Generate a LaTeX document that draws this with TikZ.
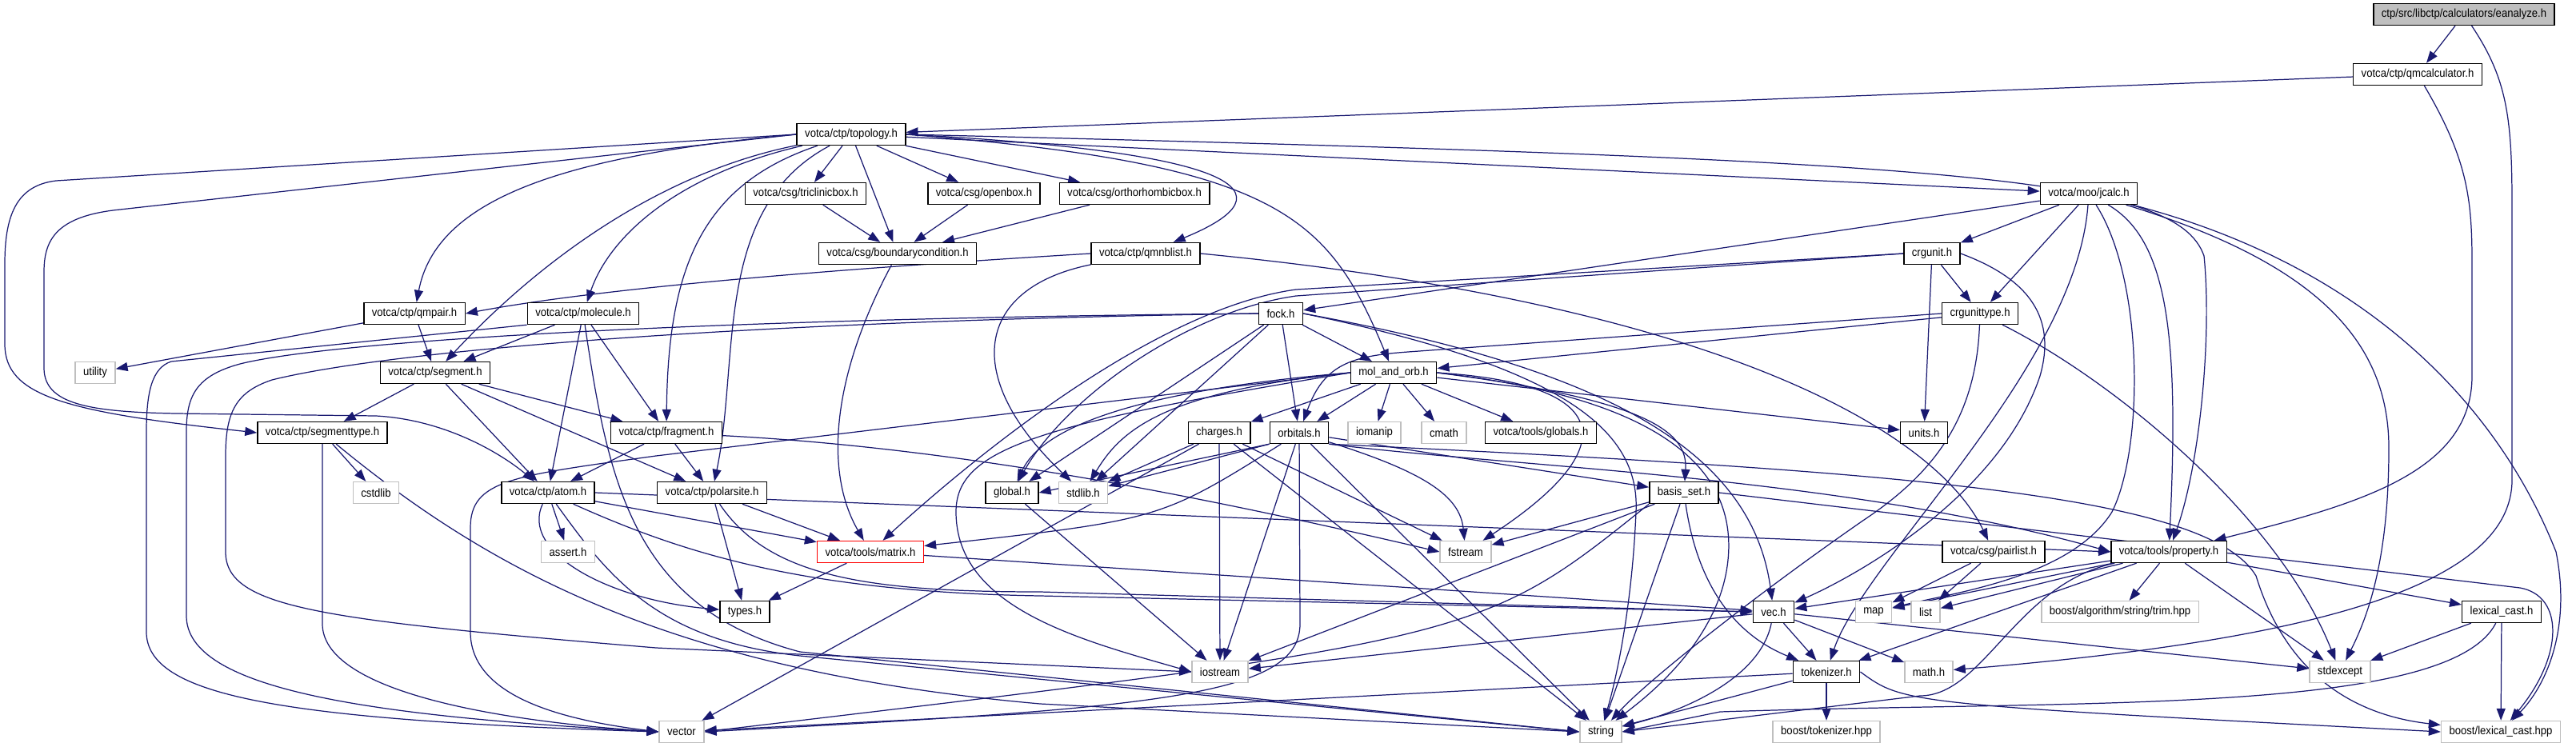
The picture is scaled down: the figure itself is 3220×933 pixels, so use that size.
\documentclass[tikz,border=0pt]{standalone}
\usepackage{fontspec}
\setmainfont{Liberation Sans}[FakeStretch=0.91]
\usetikzlibrary{arrows.meta}
\definecolor{edgeblue}{HTML}{191970}
\definecolor{sysgray}{HTML}{BFBFBF}
\pgfdeclarelayer{edges}
\pgfsetlayers{edges,main}

\begin{document}
\begin{tikzpicture}[
  x=0.02cm, y=-0.02cm,
  font=\fontsize{8.2}{9}\selectfont,
  box/.style={draw, line width=0.8pt, fill=white, minimum height=0.54cm, inner xsep=0.2cm, inner ysep=0pt},
  sys/.style={box, draw=sysgray},
  arr/.style={-{Triangle[length=0.3cm, width=0.22cm]}, draw=edgeblue, line width=0.7pt}
]
  \useasboundingbox (0,0) rectangle (3220,933);

  % Top of the graph
  \node[box, fill=sysgray] (eanalyze) at (3080,18) {ctp/src/libctp/calculators/eanalyze.h};
  \node[box] (qmcalc) at (3022,93) {votca/ctp/qmcalculator.h};
  \node[box] (topology) at (1064,168) {votca/ctp/topology.h};
  \node[box] (triclinic) at (1007,242) {votca/csg/triclinicbox.h};
  \node[box] (openbox) at (1230,242) {votca/csg/openbox.h};
  \node[box] (orthobox) at (1418,242) {votca/csg/orthorhombicbox.h};
  \node[box] (jcalc) at (2611,242) {votca/moo/jcalc.h};
  \node[box] (bcond) at (1122,317) {votca/csg/boundarycondition.h};
  \node[box] (qmnblist) at (1432,317) {votca/ctp/qmnblist.h};
  \node[box] (crgunit) at (2415,317) {crgunit.h};

  % Middle rows
  \node[box] (qmpair) at (518,392) {votca/ctp/qmpair.h};
  \node[box] (molecule) at (729,392) {votca/ctp/molecule.h};
  \node[box] (fock) at (1601,392) {fock.h};
  \node[box] (crgtype) at (2475,392) {crgunittype.h};
  \node[sys] (utility) at (119,466) {utility};
  \node[box] (segment) at (544,466) {votca/ctp/segment.h};
  \node[box] (molorb) at (1742,466) {mol\_and\_orb.h};
  \node[box] (segtype) at (403,541) {votca/ctp/segmenttype.h};
  \node[box] (fragment) at (833,541) {votca/ctp/fragment.h};
  \node[box] (charges) at (1524,541) {charges.h};
  \node[box] (orbitals) at (1624,541) {orbitals.h};
  \node[sys] (iomanip) at (1718,541) {iomanip};
  \node[sys] (cmath) at (1805,541) {cmath};
  \node[box] (globals) at (1926,541) {votca/tools/globals.h};
  \node[box] (units) at (2405,541) {units.h};
  \node[sys] (cstdlib) at (470,616) {cstdlib};
  \node[box] (atom) at (685,616) {votca/ctp/atom.h};
  \node[box] (polarsite) at (890,616) {votca/ctp/polarsite.h};
  \node[box] (global) at (1265,616) {global.h};
  \node[sys] (stdlibh) at (1354,616) {stdlib.h};
  \node[box] (basisset) at (2105,616) {basis\_set.h};
  \node[sys] (asserth) at (710,690) {assert.h};
  \node[box, draw=red] (matrix) at (1088,690) {votca/tools/matrix.h};
  \node[sys] (fstream) at (1832,690) {fstream};
  \node[box] (pairlist) at (2492,690) {votca/csg/pairlist.h};
  \node[box] (property) at (2711,690) {votca/tools/property.h};

  % Bottom rows
  \node[box] (types) at (931,765) {types.h};
  \node[box] (vec) at (2217,765) {vec.h};
  \node[sys] (map) at (2342,765) {map};
  \node[sys] (list) at (2407,765) {list};
  \node[sys] (trim) at (2650,765) {boost/algorithm/string/trim.hpp};
  \node[box] (lexcast) at (3127,765) {lexical\_cast.h};
  \node[sys] (iostream) at (1525,840) {iostream};
  \node[box] (tokenizer) at (2283,840) {tokenizer.h};
  \node[sys] (mathh) at (2411,840) {math.h};
  \node[sys] (stdexcept) at (2925,840) {stdexcept};
  \node[sys] (vector) at (852,915) {vector};
  \node[sys] (string) at (2001,915) {string};
  \node[sys] (boosttok) at (2283,915) {boost/tokenizer.hpp};
  \node[sys] (lexhpp) at (3126,915) {boost/lexical\_cast.hpp};

  \begin{pgfonlayer}{edges}
  % Root and calculator
  \draw[arr] (eanalyze) -- (qmcalc);
  \draw[arr] (eanalyze) .. controls (3135,100) and (3140,150) .. (3140,260) -- (3140,600) .. controls (3140,730) and (2900,800) .. (mathh);
  \draw[arr] (qmcalc) -- (topology);
  \draw[arr] (qmcalc) .. controls (3085,200) and (3090,250) .. (3090,330) -- (3090,470) .. controls (3090,590) and (2950,630) .. (property);

  % Topology
  \draw[arr] (topology) -- (triclinic);
  \draw[arr] (topology) -- (bcond);
  \draw[arr] (topology) -- (openbox);
  \draw[arr] (topology) -- (orthobox);
  \draw[arr] (topology) -- (jcalc);
  \draw[arr] (topology.east) .. controls (1550,190) and (1620,240) .. (qmnblist);
  \draw[arr] (topology.east) .. controls (2450,200) and (2720,220) .. (2755,320) .. controls (2765,420) and (2750,580) .. (property);
  \draw[arr] (topology.east) .. controls (1600,205) and (1660,270) .. (molorb);
  \draw[arr] (topology.west) .. controls (700,195) and (545,250) .. (qmpair);
  \draw[arr] (topology) .. controls (830,215) and (680,320) .. (segment);
  \draw[arr] (topology) .. controls (840,220) and (760,300) .. (molecule);
  \draw[arr] (topology.west) -- (70,226) .. controls (20,232) and (6,270) .. (6,330) -- (6,430) .. controls (6,495) and (80,515) .. (segtype.west);
  \draw[arr] (topology.west) -- (150,262) .. controls (70,270) and (55,300) .. (55,340) -- (55,460) .. controls (55,505) and (110,515) .. (220,517) -- (470,520) .. controls (560,525) and (630,570) .. (atom);
  \draw[arr] (topology) .. controls (880,230) and (835,330) .. (fragment);
  \draw[arr] (topology) .. controls (890,260) and (925,450) .. (polarsite);

  % Boxes and neighbour list
  \draw[arr] (triclinic) -- (bcond);
  \draw[arr] (openbox) -- (bcond);
  \draw[arr] (orthobox) -- (bcond);
  \draw[arr] (bcond) .. controls (1040,470) and (1030,590) .. (matrix);
  \draw[arr] (qmnblist.west) .. controls (900,345) and (700,370) .. (qmpair.east);
  \draw[arr] (qmnblist) .. controls (1220,360) and (1200,470) .. (stdlibh);
  \draw[arr] (qmnblist.east) .. controls (2150,380) and (2420,540) .. (pairlist);

  % jcalc
  \draw[arr] (jcalc) -- (fock);
  \draw[arr] (jcalc) -- (crgunit);
  \draw[arr] (jcalc) -- (crgtype);
  \draw[arr] (jcalc) .. controls (2595,460) and (2330,700) .. (tokenizer);
  \draw[arr] (jcalc) .. controls (2680,350) and (2680,560) .. (2640,640) .. controls (2590,720) and (2450,740) .. (map);
  \draw[arr] (jcalc) .. controls (2710,300) and (2724,420) .. (property);
  \draw[arr] (jcalc) .. controls (2900,330) and (2986,430) .. (2986,560) .. controls (2986,700) and (2960,770) .. (stdexcept);
  \draw[arr] (jcalc) .. controls (2950,330) and (3120,500) .. (3195,690) .. controls (3215,790) and (3180,860) .. (lexhpp);

  % crgunit and crgunittype
  \draw[arr] (crgunit) -- (crgtype);
  \draw[arr] (crgunit) -- (units);
  \draw[arr] (crgunit.east) .. controls (2540,350) and (2570,400) .. (2550,470) .. controls (2500,620) and (2320,720) .. (vec);
  \draw[arr] (crgunit.west) -- (1620,362) .. controls (1450,385) and (1230,560) .. (matrix);
  \draw[arr] (crgunit.west) -- (1620,370) .. controls (1480,390) and (1330,500) .. (global);
  \draw[arr] (crgtype) -- (molorb);
  \draw[arr] (crgtype.west) -- (1760,440) .. controls (1690,445) and (1655,455) .. (orbitals);
  \draw[arr] (crgtype) .. controls (2470,520) and (2420,590) .. (2330,650) .. controls (2200,740) and (2060,850) .. (string);
  \draw[arr] (crgtype) .. controls (2650,480) and (2850,650) .. (stdexcept);

  % fock
  \draw[arr] (fock) -- (molorb);
  \draw[arr] (fock) -- (orbitals);
  \draw[arr] (fock) -- (global);
  \draw[arr] (fock) -- (stdlibh);
  \draw[arr] (fock.west) .. controls (900,398) and (420,425) .. (300,455) .. controls (245,470) and (233,495) .. (233,540) -- (233,770) .. controls (233,860) and (450,895) .. (vector.west);
  \draw[arr] (fock.west) .. controls (900,402) and (480,440) .. (340,475) .. controls (295,490) and (282,515) .. (282,570) -- (282,690) .. controls (282,760) and (400,775) .. (820,810) -- (iostream.west);
  \draw[arr] (fock.east) .. controls (1960,460) and (2050,540) .. (2045,640) .. controls (2040,760) and (2020,850) .. (string);
  \draw[arr] (fock.east) .. controls (2000,460) and (2190,560) .. (vec);

  % Segments and molecules
  \draw[arr] (qmpair) -- (utility);
  \draw[arr] (qmpair) -- (segment);
  \draw[arr] (molecule) -- (segment);
  \draw[arr] (molecule) -- (atom);
  \draw[arr] (molecule) -- (fragment);
  \draw[arr] (molecule.south west) -- (214,452) .. controls (190,460) and (183,490) .. (183,540) -- (183,790) .. controls (183,870) and (350,900) .. (vector.west);
  \draw[arr] (molecule) .. controls (760,600) and (790,760) .. (1000,815) -- (string.west);
  \draw[arr] (segment) -- (segtype);
  \draw[arr] (segment) -- (atom);
  \draw[arr] (segment) -- (fragment);
  \draw[arr] (segment) -- (polarsite);
  \draw[arr] (segtype) -- (cstdlib);
  \draw[arr] (segtype) -- (403,780) .. controls (403,860) and (600,900) .. (vector.west);
  \draw[arr] (segtype) .. controls (620,720) and (850,840) .. (1300,880) -- (string.west);
  \draw[arr] (fragment) -- (atom);
  \draw[arr] (fragment) -- (polarsite);
  \draw[arr] (fragment) .. controls (1200,560) and (1500,620) .. (fstream.west);
  \draw[arr] (polarsite) -- (matrix);
  \draw[arr] (polarsite) -- (types);
  \draw[arr] (polarsite) .. controls (960,720) and (1080,740) .. (1300,740) -- (vec.west);

  % atom and matrix
  \draw[arr] (atom) -- (asserth);
  \draw[arr] (atom) -- (matrix);
  \draw[arr] (atom) .. controls (650,690) and (760,750) .. (types);
  \draw[arr] (atom) .. controls (850,690) and (1000,740) .. (1300,745) -- (vec.west);
  \draw[arr] (atom.east) -- (property.west);
  \draw[arr] (atom) .. controls (760,720) and (820,800) .. (1000,820) -- (string.west);
  \draw[arr] (matrix) -- (types);
  \draw[arr] (matrix) -- (vec);
  \draw[arr] (global) -- (iostream);

  % mol_and_orb
  \draw[arr] (molorb) -- (charges);
  \draw[arr] (molorb) -- (orbitals);
  \draw[arr] (molorb) -- (iomanip);
  \draw[arr] (molorb) -- (cmath);
  \draw[arr] (molorb) -- (globals);
  \draw[arr] (molorb) -- (units);
  \draw[arr] (molorb.west) .. controls (1450,490) and (1400,540) .. (stdlibh);
  \draw[arr] (molorb.west) .. controls (1400,490) and (1300,540) .. (global);
  \draw[arr] (molorb.west) -- (820,570) .. controls (640,595) and (588,600) .. (588,660) -- (588,790) .. controls (588,870) and (700,900) .. (vector.west);
  \draw[arr] (molorb.west) .. controls (1300,530) and (1195,560) .. (1195,640) .. controls (1195,760) and (1350,800) .. (iostream.west);
  \draw[arr] (molorb.east) .. controls (2060,500) and (2110,540) .. (basisset);
  \draw[arr] (molorb.east) .. controls (2020,480) and (2030,560) .. (fstream);
  \draw[arr] (molorb.east) .. controls (2100,500) and (2170,600) .. (2160,700) .. controls (2150,800) and (2060,870) .. (string);

  % charges and orbitals
  \draw[arr] (charges) -- (stdlibh);
  \draw[arr] (charges) -- (vector);
  \draw[arr] (charges) -- (iostream);
  \draw[arr] (charges) -- (fstream);
  \draw[arr] (charges) -- (string);
  \draw[arr] (orbitals.south west) -- (global.east);
  \draw[arr] (orbitals.south west) -- (stdlibh);
  \draw[arr] (orbitals) .. controls (1450,650) .. (matrix);
  \draw[arr] (orbitals) -- (iostream);
  \draw[arr] (orbitals) -- (1625,780) .. controls (1625,870) and (1450,885) .. (vector.east);
  \draw[arr] (orbitals) .. controls (1780,590) and (1825,620) .. (fstream);
  \draw[arr] (orbitals) -- (string);
  \draw[arr] (orbitals) -- (basisset);
  \draw[arr] (orbitals.south east) .. controls (1900,585) and (2300,595) .. (property.west);
  \draw[arr] (orbitals.south east) .. controls (2400,590) and (2760,620) .. (2820,720) .. controls (2860,850) and (2950,895) .. (lexhpp);

  % basis_set
  \draw[arr] (basisset) -- (fstream);
  \draw[arr] (basisset) -- (iostream);
  \draw[arr] (basisset.south west) .. controls (1850,800) .. (vector.east);
  \draw[arr] (basisset) -- (string);
  \draw[arr] (basisset) .. controls (2120,720) and (2160,790) .. (tokenizer);
  \draw[arr] (basisset.east) -- (3150,735) .. controls (3205,745) and (3205,820) .. (lexhpp);

  % vec and tokenizer
  \draw[arr] (vec) -- (tokenizer);
  \draw[arr] (vec) -- (mathh);
  \draw[arr] (vec) -- (iostream);
  \draw[arr] (vec) -- (stdexcept);
  \draw[arr] (vec) .. controls (2200,850) and (2100,890) .. (string);
  \draw[arr] (tokenizer) -- (boosttok);
  \draw[arr] (tokenizer) -- (string);
  \draw[arr] (tokenizer) -- (vector);
  \draw[arr] (tokenizer.east) .. controls (2380,880) .. (lexhpp.west);

  % pairlist, property, lexical_cast
  \draw[arr] (pairlist) -- (map);
  \draw[arr] (pairlist) -- (list);
  \draw[arr] (property) -- (map);
  \draw[arr] (property) -- (list);
  \draw[arr] (property) -- (vec);
  \draw[arr] (property) -- (tokenizer);
  \draw[arr] (property) -- (trim);
  \draw[arr] (property) -- (stdexcept);
  \draw[arr] (property) -- (lexcast);
  \draw[arr] (property) .. controls (2520,730) and (2480,870) .. (2400,870) -- (string.east);
  \draw[arr] (lexcast) -- (stdexcept);
  \draw[arr] (lexcast) -- (lexhpp);
  \draw[arr] (lexcast) .. controls (3060,895) and (2600,875) .. (2150,890) -- (string.east);
  \end{pgfonlayer}
\end{tikzpicture}
\end{document}
